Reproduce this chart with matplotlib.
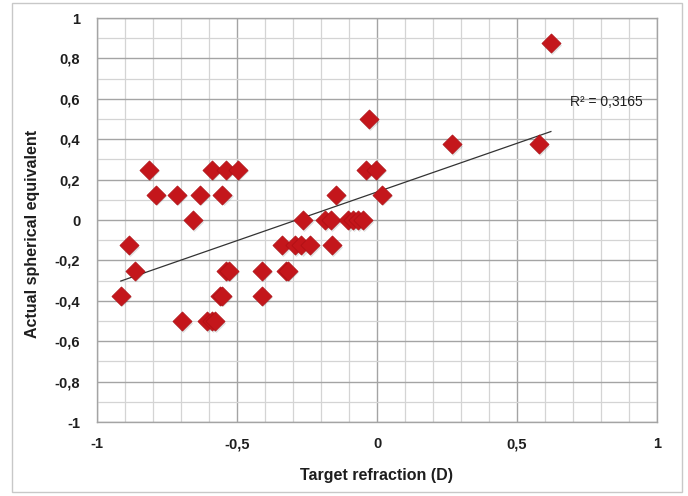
import numpy as np
import matplotlib
matplotlib.use("Agg")
import matplotlib.pyplot as plt
from matplotlib.patches import Rectangle
from matplotlib.ticker import MultipleLocator, FuncFormatter

# Target refraction (D) vs. actual spherical equivalent per eye
target = [-0.915, -0.887, -0.864, -0.815, -0.788, -0.713, -0.696, -0.658,
          -0.633, -0.606, -0.590, -0.578, -0.588, -0.552, -0.562, -0.553,
          -0.541, -0.540, -0.530, -0.497, -0.411, -0.411, -0.338, -0.325,
          -0.318, -0.292, -0.270, -0.240, -0.266, -0.186, -0.163, -0.160,
          -0.147, -0.102, -0.085, -0.067, -0.049, -0.038, -0.028, -0.004,
          0.019, 0.268, 0.577, 0.621]
actual = [-0.375, -0.125, -0.25, 0.25, 0.125, 0.125, -0.5, 0.0,
          0.125, -0.5, -0.5, -0.5, 0.25, 0.125, -0.375, -0.375,
          0.25, -0.25, -0.25, 0.25, -0.25, -0.375, -0.125, -0.25,
          -0.25, -0.125, -0.125, -0.125, 0.0, 0.0, 0.0, -0.125,
          0.125, 0.0, 0.0, 0.0, 0.0, 0.25, 0.5, 0.25,
          0.125, 0.375, 0.375, 0.875]
r2_label = "R² = 0,3165"

x_ticks = [-1, -0.5, 0, 0.5, 1]
y_ticks = [-1, -0.8, -0.6, -0.4, -0.2, 0, 0.2, 0.4, 0.6, 0.8, 1]

font = "Liberation Sans"

fig = plt.figure(figsize=(6.88, 4.96), dpi=100)
fig.patches.append(Rectangle((12 / 688, 4 / 496), 670 / 688, 489 / 496,
                             transform=fig.transFigure, fill=False,
                             edgecolor="#c8c8c8", linewidth=1.0))
ax = fig.add_axes([97 / 688, 1 - 422 / 496, 560 / 688, 404 / 496])

ax.set_xlim(-1, 1)
ax.set_ylim(-1, 1)
ax.set_xticks(x_ticks)
ax.set_yticks(y_ticks)
ax.xaxis.set_minor_locator(MultipleLocator(0.1))
ax.yaxis.set_minor_locator(MultipleLocator(0.1))

fmt = FuncFormatter(lambda v, p: (f"{v:g}").replace(".", ","))
ax.xaxis.set_major_formatter(fmt)
ax.yaxis.set_major_formatter(fmt)

ax.grid(True, which="minor", color="#d4d4d4", linewidth=0.9, zorder=0)
ax.grid(True, which="major", color="#a4a4a4", linewidth=1.0, zorder=0)
ax.set_axisbelow(True)
for s in ax.spines.values():
    s.set_color("#a4a4a4")
    s.set_linewidth(1.0)
ax.tick_params(which="both", length=0)
ax.tick_params(axis="y", pad=12)
ax.tick_params(axis="x", pad=11)
for lab in ax.get_xticklabels() + ax.get_yticklabels():
    lab.set_fontfamily(font)
    lab.set_fontweight("bold")
    lab.set_fontsize(10.5)
    lab.set_color("#1e1e1e")

# linear trend line over the data range
xs = np.array(target)
ys = np.array(actual)
k, b = np.polyfit(xs, ys, 1)
xl = np.array([xs.min(), xs.max()])
ax.plot(xl, k * xl + b, color="#333333", linewidth=0.9, zorder=2)

# soft drop shadow under markers
ax.scatter(xs + 0.004, ys - 0.008, marker="D", s=95, color="#000000",
           alpha=0.12, linewidths=0, zorder=2.5)
ax.scatter(xs, ys, marker="D", s=95, color="#c4161b", edgecolors="#ae1015",
           linewidths=0.5, zorder=3)

ax.text(0.69, 0.585, r2_label, fontsize=10, family=font, color="#1e1e1e",
        va="center", ha="left", zorder=4)

ax.set_xlabel("Target refraction (D)", fontsize=11.5, fontweight="bold",
              family=font, color="#1e1e1e", labelpad=12)
ax.set_ylabel("Actual spherical equivalent", fontsize=11.5, fontweight="bold",
              family=font, color="#1e1e1e")
ax.yaxis.set_label_coords(-0.102, 0.465)

fig.savefig("out.png", dpi=100)
